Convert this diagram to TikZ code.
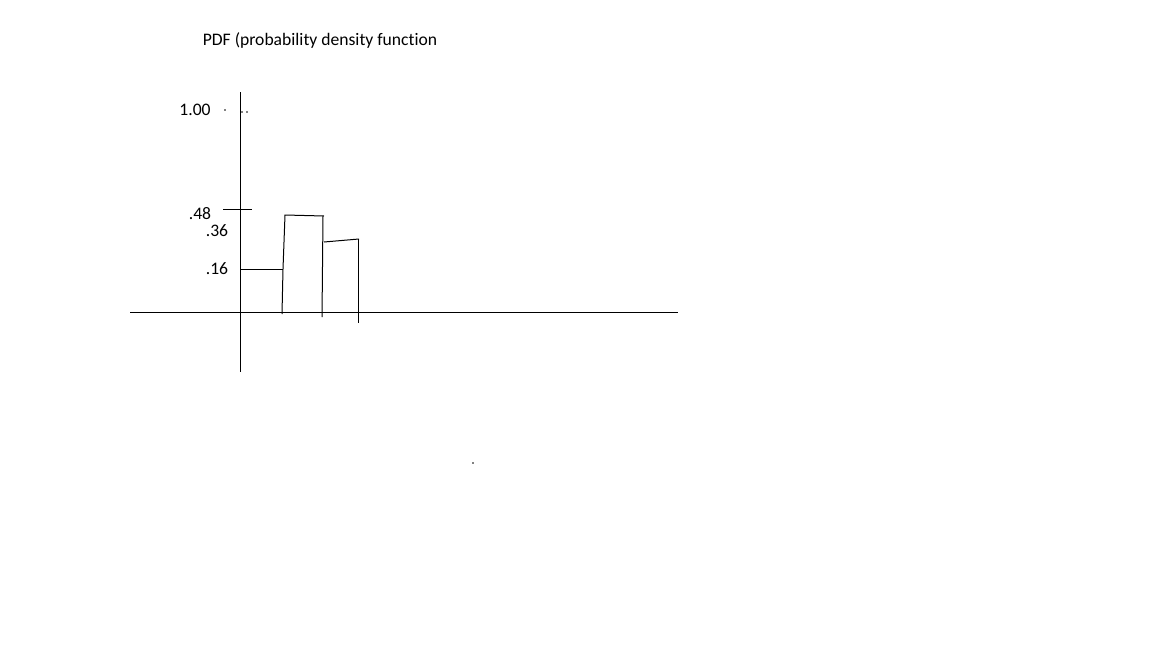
\documentclass[tikz,border=0pt]{standalone}
\usepackage{fontspec}
\setmainfont{Carlito}[Ligatures={NoCommon}]
\begin{document}
\begin{tikzpicture}[x=1pt,y=-1pt,
  lbl/.style={inner sep=0pt,font=\fontsize{17.6}{19}\selectfont},
  ln/.style={line width=1pt,black},
  dot/.style={fill=black}]
\useasboundingbox[fill=white] (0,0) rectangle (1152,648);
\node[lbl] (title) at (320,40) {PDF (probability density function};
\node[lbl] (l100) at (195,110) {1.00};
\node[lbl] (l48) at (200,214) {.48};
\node[lbl] (l36) at (217,231) {.36};
\node[lbl] (l16) at (217,269) {.16};
% axes
\coordinate (yt) at (240,92); \coordinate (yb) at (240,372);
\coordinate (xl) at (130,312); \coordinate (xr) at (678,312);
\draw[ln] (yt) -- (yb);
\draw[ln] (xl) -- (xr);
% tick
\coordinate (t1) at (223,209); \coordinate (t2) at (252,209);
\draw[ln] (t1) -- (t2);
% dots
\fill[dot] (225,110) circle (0.8);
\fill[dot] (242,112) circle (0.8);
\fill[dot] (247,112) circle (0.8);
\fill[dot] (473,463) circle (0.8);
% bars
\coordinate (a0) at (240,269); \coordinate (a1) at (283,269);
\coordinate (a2) at (282,314); \coordinate (b1) at (285,215);
\coordinate (b2) at (324,216); \coordinate (b3) at (322,317);
\coordinate (c1) at (324,242); \coordinate (c2) at (359,239);
\coordinate (c3) at (358,323);
\draw[ln] (a0) -- (a1);
\draw[ln] (a2) -- (a1) -- (b1) -- (b2);
\draw[ln] (323,216) -- (b3);
\draw[ln] (c1) -- (c2);
\draw[ln] (358,239) -- (c3);
\end{tikzpicture}
\end{document}
